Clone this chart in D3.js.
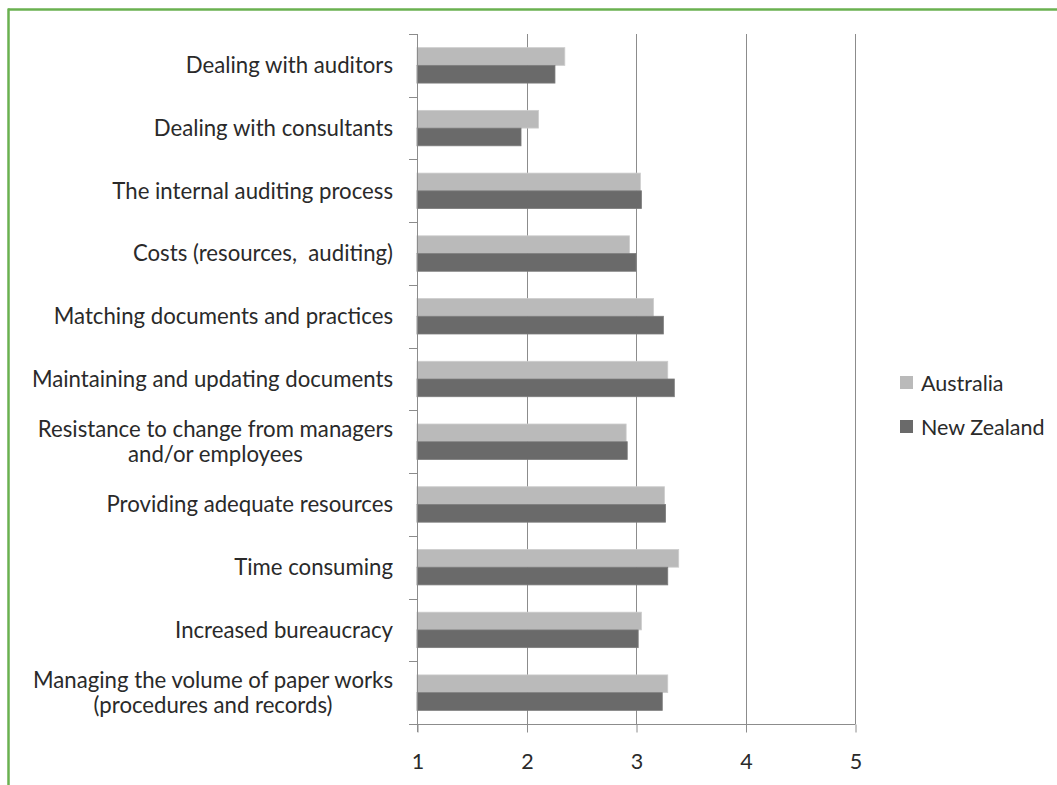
<!DOCTYPE html>
<html>
<head>
<meta charset="utf-8">
<script src="https://cdn.jsdelivr.net/npm/d3@7"></script>
<style>
  html, body { margin: 0; padding: 0; background: #fff; }
  svg { display: block; }
  text { font-family: Lato, "Open Sans", sans-serif; fill: #2a2a2a; white-space: pre; }
</style>
</head>
<body>
<svg id="chart" width="1057" height="785"></svg>
<script>
// Problem areas, top to bottom; "\n" splits a label onto two lines
const categories = [
  "Dealing with auditors",
  "Dealing with consultants",
  "The internal auditing process",
  "Costs (resources,  auditing)",
  "Matching documents and practices",
  "Maintaining and updating documents",
  "Resistance to change from managers\nand/or employees",
  "Providing adequate resources",
  "Time consuming",
  "Increased bureaucracy",
  "Managing the volume of paper works\n(procedures and records)"
];
const seriesNames = ["Australia", "New Zealand"];
const australia  = [2.35, 2.11, 3.04, 2.94, 3.16, 3.29, 2.91, 3.26, 3.39, 3.05, 3.29];
const newZealand = [2.26, 1.95, 3.05, 3.00, 3.25, 3.35, 2.92, 3.27, 3.29, 3.02, 3.24];
const xTicks = [1, 2, 3, 4, 5];
const colors = ["#bababa", "#6a6a6a"];

const svg = d3.select("#chart");
const plot = { left: 417, right: 855, top: 34, bottom: 724 };
const fontSize = 21.5;
const labelSize = 22.2;

const x = d3.scaleLinear().domain([1, 5]).range([plot.left, plot.right]);
const y = d3.scaleBand().domain(d3.range(categories.length))
  .range([plot.top, plot.bottom]).paddingInner(0.435).paddingOuter(0.2175);
const ySub = d3.scaleBand().domain([0, 1]).range([0, y.bandwidth()]);

// Frame: green rule along the top and left
svg.append("line").attr("x1", 8).attr("x2", 1057).attr("y1", 9.5).attr("y2", 9.5)
  .attr("stroke", "#6ab150").attr("stroke-width", 2.5);
svg.append("line").attr("x1", 8.5).attr("x2", 8.5).attr("y1", 8.5).attr("y2", 785)
  .attr("stroke", "#6ab150").attr("stroke-width", 2.5);

// Vertical gridlines
svg.append("g").selectAll("line").data(xTicks.slice(1)).join("line")
  .attr("x1", d => Math.round(x(d)) + 0.5).attr("x2", d => Math.round(x(d)) + 0.5)
  .attr("y1", plot.top).attr("y2", plot.bottom)
  .attr("stroke", "#8c8c8c").attr("stroke-width", 1);

// Bars
const rows = categories.map((c, i) => ({ i, vals: [australia[i], newZealand[i]] }));
const groups = svg.append("g").selectAll("g").data(rows).join("g")
  .attr("transform", d => `translate(0,${y(d.i)})`);
groups.selectAll("rect").data(d => d.vals.map((v, s) => ({ v, s }))).join("rect")
  .attr("x", x(1))
  .attr("y", d => ySub(d.s))
  .attr("width", d => x(d.v) - x(1))
  .attr("height", ySub.bandwidth())
  .attr("fill", d => colors[d.s])
  .attr("stroke", d => d.s === 0 ? "#cdcdcd" : "#7c7c7c")
  .attr("stroke-width", 0.8);

// Category axis with ticks at band boundaries
const boundaries = d3.range(categories.length + 1)
  .map(i => plot.top + i * (plot.bottom - plot.top) / categories.length);
const yAxis = svg.append("g");
yAxis.append("line").attr("x1", plot.left + 0.5).attr("x2", plot.left + 0.5)
  .attr("y1", plot.top).attr("y2", plot.bottom + 8).attr("stroke", "#8c8c8c");
yAxis.selectAll("line.tick").data(boundaries).join("line").attr("class", "tick")
  .attr("x1", plot.left - 8).attr("x2", plot.left)
  .attr("y1", d => Math.round(d) + 0.5).attr("y2", d => Math.round(d) + 0.5)
  .attr("stroke", "#8c8c8c");

// Category labels: each block right-aligned, lines centered within it
const labelRight = 393;
categories.forEach((c, i) => {
  const lines = c.split("\n");
  const t = svg.append("text").attr("font-size", labelSize).attr("text-anchor", "middle");
  const spans = lines.map((ln, k) => t.append("tspan").text(ln));
  const maxW = d3.max(spans, s => s.node().getComputedTextLength());
  const cx = labelRight - maxW / 2;
  const cy = y(i) + y.bandwidth() / 2;
  const lh = 25;
  spans.forEach((s, k) => s.attr("x", cx)
    .attr("y", cy + (k - (lines.length - 1) / 2) * lh)
    .attr("dy", "0.35em"));
});

// Value axis along the bottom
const xAxis = d3.axisBottom(x).tickValues(xTicks).tickSize(8).tickPadding(21).tickFormat(d3.format("d"));
const gx = svg.append("g").attr("transform", `translate(0.5,${plot.bottom + 0.5})`).call(xAxis);
gx.select(".domain").attr("stroke", "#8c8c8c").attr("d", `M${plot.left},0H${plot.right}`);
gx.selectAll(".tick line").attr("stroke", "#8c8c8c");
gx.selectAll(".tick text").attr("font-size", fontSize).attr("font-family", "Lato, sans-serif").attr("fill", "#2a2a2a");

// Legend
const legend = svg.append("g").attr("transform", "translate(900,376)");
seriesNames.forEach((name, s) => {
  const g = legend.append("g").attr("transform", `translate(0,${s * 44})`);
  g.append("rect").attr("width", 13).attr("height", 13).attr("fill", colors[s]);
  g.append("text").attr("x", 21).attr("y", 7).attr("dy", "0.35em")
    .attr("font-size", fontSize).text(name);
});
</script>
</body>
</html>
